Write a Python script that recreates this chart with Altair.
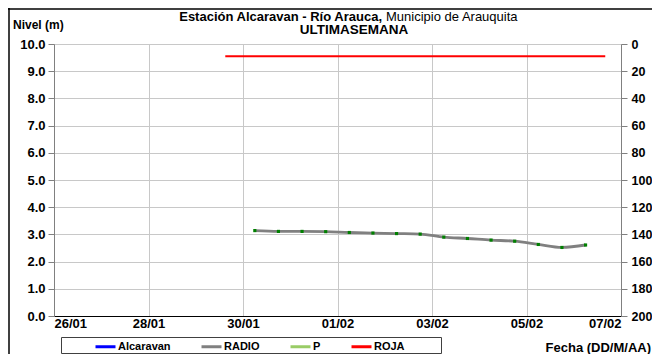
import altair as alt
import pandas as pd

FONT = "Liberation Sans"

# ---- data ----
radio_times = [
    "2011-01-30T06:00:00Z", "2011-01-30T18:00:00Z",
    "2011-01-31T06:00:00Z", "2011-01-31T18:00:00Z",
    "2011-02-01T06:00:00Z", "2011-02-01T18:00:00Z",
    "2011-02-02T06:00:00Z", "2011-02-02T18:00:00Z",
    "2011-02-03T06:00:00Z", "2011-02-03T18:00:00Z",
    "2011-02-04T06:00:00Z", "2011-02-04T18:00:00Z",
    "2011-02-05T06:00:00Z", "2011-02-05T18:00:00Z",
    "2011-02-06T06:00:00Z",
]
radio_levels = [3.14, 3.11, 3.11, 3.10, 3.07, 3.05, 3.03, 3.01,
                2.90, 2.85, 2.79, 2.75, 2.63, 2.52, 2.61]

roja_times = ["2011-01-29T15:00:00Z", "2011-02-06T16:00:00Z"]
roja_levels = [9.55, 9.55]

series_names = ["Alcaravan", "RADIO", "P", "ROJA"]
series_colors = ["#0000FF", "#808080", "#99CC66", "#FF0000"]

level_ticks = [0, 1, 2, 3, 4, 5, 6, 7, 8, 9, 10]
precip_ticks = [0, 20, 40, 60, 80, 100, 120, 140, 160, 180, 200]
date_ticks = [(1, 26), (1, 28), (1, 30), (2, 1), (2, 3), (2, 5), (2, 7)]

W, H = 567, 272
AX_SIZE = 13

radio_df = pd.DataFrame({"t": radio_times, "nivel": radio_levels,
                         "serie": ["RADIO"] * len(radio_times)})
roja_df = pd.DataFrame({"t": roja_times, "nivel": roja_levels,
                        "serie": ["ROJA"] * len(roja_times)})

x_scale = alt.Scale(
    type="utc",
    domain=[alt.DateTime(year=2011, month=1, date=26, utc=True),
            alt.DateTime(year=2011, month=2, date=7, utc=True)],
)
x_axis = alt.Axis(
    values=[alt.DateTime(year=2011, month=m, date=d, utc=True) for m, d in date_ticks],
    format="%d/%m", title=None, labelFontWeight="bold", labelFontSize=AX_SIZE,
    labelColor="black", labelFont=FONT, domainColor="black", tickSize=0,
    labelPadding=1, gridColor="#c8c8c8", grid=True, labelOverlap=False,
)
y_scale = alt.Scale(domain=[0, 10], nice=False)
y_axis = alt.Axis(
    values=level_ticks, format=".1f", title=None, labelFontWeight="bold",
    labelFontSize=AX_SIZE, labelColor="black", labelFont=FONT,
    domainColor="#808080", tickColor="#808080", tickSize=6, labelPadding=3,
    gridColor="#c8c8c8", grid=True, labelOverlap=False, tickCount=11,
)
color_enc = alt.Color(
    "serie:N",
    scale=alt.Scale(domain=series_names, range=series_colors),
    legend=alt.Legend(
        title=None, orient="none", direction="horizontal",
        legendX=40, legendY=291, symbolType="stroke", symbolSize=400,
        symbolStrokeWidth=3, labelFontWeight="bold", labelFontSize=11,
        labelFont=FONT, labelColor="black", columnPadding=24, labelOffset=1,
        padding=0,
    ),
)

X = alt.X("t:T", scale=x_scale, axis=x_axis)
Y = alt.Y("nivel:Q", scale=y_scale, axis=y_axis)

roja = alt.Chart(roja_df).mark_line(strokeWidth=2).encode(x=X, y=Y, color=color_enc)
radio_line = alt.Chart(radio_df).mark_line(
    strokeWidth=2.8, interpolate="monotone"
).encode(x=X, y=Y, color=color_enc)
radio_pts = alt.Chart(radio_df).mark_point(
    shape="square", filled=True, size=10, color="#008000", opacity=1
).encode(x=X, y=Y)

left_group = alt.layer(roja, radio_line, radio_pts)

right_axis_df = pd.DataFrame({"p": [precip_ticks[0], precip_ticks[-1]]})
right = alt.Chart(right_axis_df).mark_tick(opacity=0).encode(
    y=alt.Y("p:Q", scale=alt.Scale(domain=[0, 200], reverse=True, nice=False),
            axis=alt.Axis(orient="right", values=precip_ticks, title=None,
                          labelFontWeight="bold", labelFontSize=12.5,
                          labelColor="black", labelFont=FONT,
                          domainColor="#808080", tickColor="#808080",
                          tickSize=6, labelPadding=4, grid=False,
                          labelOverlap=False, tickCount=11)),
)

def label(txt, x, y, align="left", weight="bold", size=11):
    return alt.Chart(pd.DataFrame({"s": [txt]})).mark_text(
        align=align, baseline="middle", font=FONT, fontSize=size,
        fontWeight=weight, color="black",
    ).encode(text="s:N", x=alt.value(x), y=alt.value(y))

title_bold = label("Estación Alcaravan - Río Arauca,", 328, -27, align="right", size=13)
title_norm = label("Municipio de Arauquita", 332, -27, align="left", weight="normal", size=13)
title2 = label("ULTIMASEMANA", 300, -14, align="center", size=13.5)
nivel = label("Nivel (m)", -41, -19, size=12)
fecha = label("Fecha (DD/M/AA)", 597, 304, align="right", size=13)

legend_box = alt.Chart(pd.DataFrame({"k": [0]})).mark_rect(
    fill="white", stroke="#404040", strokeWidth=1
).encode(x=alt.value(7.5), x2=alt.value(387.5), y=alt.value(293.5), y2=alt.value(309.5))

frame_left = alt.Chart(pd.DataFrame({"k": [0]})).mark_rule(color="black", strokeWidth=1.5).encode(
    x=alt.value(-45), y=alt.value(-36), y2=alt.value(320))
frame_top = alt.Chart(pd.DataFrame({"k": [0]})).mark_rule(color="black", strokeWidth=1.5).encode(
    x=alt.value(-46), x2=alt.value(600), y=alt.value(-35))

chart = alt.layer(
    legend_box, left_group, right, title_bold, title_norm, title2, nivel, fecha,
    frame_left, frame_top,
).resolve_scale(y="independent").properties(
    width=W, height=H,
    autosize=alt.AutoSizeParams(type="none"),
    padding={"left": 46, "top": 36, "right": 31, "bottom": 38},
).configure_view(stroke=None).configure(background="white")

chart.save("out.html", embed_options={"renderer": "svg", "actions": False})
